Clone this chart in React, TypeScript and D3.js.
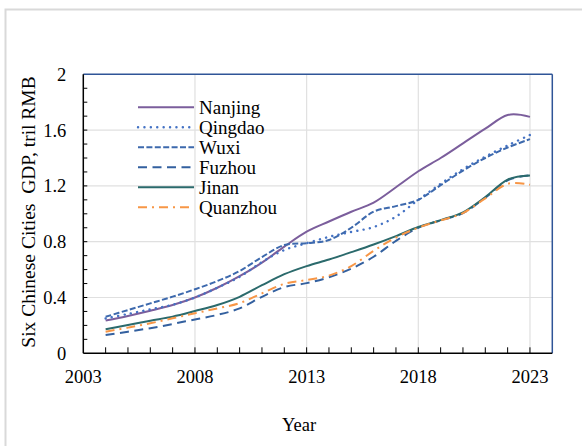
import * as d3 from "d3";
import React from "react";

const years = d3.range(2004, 2024);
const cities = ["Nanjing", "Qingdao", "Wuxi", "Fuzhou", "Jinan", "Quanzhou"];

const nanjing = [0.235, 0.268, 0.305, 0.346, 0.4, 0.47, 0.553, 0.65, 0.765, 0.872, 0.945, 1.015, 1.08, 1.19, 1.305, 1.4, 1.505, 1.61, 1.708, 1.695];
const qingdao = [0.25, 0.282, 0.315, 0.348, 0.4, 0.47, 0.548, 0.655, 0.74, 0.789, 0.835, 0.87, 0.905, 0.98, 1.1, 1.215, 1.32, 1.41, 1.49, 1.565];
const wuxi = [0.262, 0.31, 0.358, 0.406, 0.459, 0.518, 0.59, 0.69, 0.776, 0.789, 0.812, 0.9, 1.015, 1.055, 1.1, 1.205, 1.31, 1.4, 1.475, 1.535];
const fuzhou = [0.131, 0.155, 0.18, 0.21, 0.243, 0.275, 0.322, 0.405, 0.475, 0.503, 0.545, 0.607, 0.692, 0.806, 0.9, 0.953, 1.005, 1.115, 1.24, 1.275];
const jinan = [0.172, 0.203, 0.234, 0.263, 0.303, 0.346, 0.405, 0.488, 0.567, 0.625, 0.672, 0.725, 0.78, 0.84, 0.905, 0.955, 1.01, 1.12, 1.245, 1.275];
const quanzhou = [0.155, 0.184, 0.215, 0.251, 0.287, 0.322, 0.36, 0.43, 0.498, 0.525, 0.557, 0.625, 0.735, 0.83, 0.9, 0.953, 1.005, 1.11, 1.215, 1.208];

const xTickLabels = [2003, 2008, 2013, 2018, 2023];
const yTickLabels = [0, 0.4, 0.8, 1.2, 1.6, 2];

const seriesValues = [nanjing, qingdao, wuxi, fuzhou, jinan, quanzhou];
// stroke styles per series
const styles = [
  { color: "#7b5e9c", dash: "none", cap: "butt" },
  { color: "#4472c4", dash: "0.1 6.3", cap: "round" },
  { color: "#3d69ad", dash: "6 2.4", cap: "butt" },
  { color: "#33609f", dash: "9 5.5", cap: "butt" },
  { color: "#2b6a6c", dash: "none", cap: "butt" },
  { color: "#f79646", dash: "9 5 2 5", cap: "butt" },
];

const font = "'Liberation Serif', 'Times New Roman', serif";

export default function App() {
  const width = 582;
  const height = 446;
  const left = 83.3;
  const right = 552.3;
  const top = 74.3;
  const bottom = 353.3;

  const x = d3.scaleLinear().domain([2003, 2024]).range([left, right]);
  const y = d3.scaleLinear().domain([0, 2]).range([bottom, top]);

  const lineGen = d3
    .line<number>()
    .x((d, i) => x(years[i]))
    .y((d) => y(d))
    .curve(d3.curveCatmullRom.alpha(0));

  const minorYears = d3.range(2004, 2024);
  const minorY = d3.range(0.1, 2, 0.1);

  return (
    <svg
      width={width}
      height={height}
      style={{ position: "absolute", left: 0, top: 0, background: "#fff" }}
      fontFamily={font}
    >
      <rect x={0} y={0} width={width} height={height} fill="#fff" />
      <rect x={5.5} y={9.5} width={620} height={500} fill="none" stroke="#d9d9d9" strokeWidth={2} />

      {/* grid */}
      {yTickLabels.slice(1, -1).map((v) => (
        <line key={"gy" + v} x1={left} x2={right} y1={y(v)} y2={y(v)} stroke="#e0e0e0" strokeWidth={1.2} />
      ))}
      {xTickLabels.slice(1).map((v) => (
        <line key={"gx" + v} x1={x(v)} x2={x(v)} y1={top} y2={bottom} stroke="#e0e0e0" strokeWidth={1.2} />
      ))}

      {/* frame */}
      <line x1={left} x2={right} y1={top} y2={top} stroke="#2f5597" strokeWidth={1.5} />
      <line x1={right} x2={right} y1={top} y2={bottom} stroke="#2f5597" strokeWidth={1.5} />
      <line x1={left} x2={left} y1={top} y2={bottom} stroke="#000" strokeWidth={1.5} />
      <line x1={left} x2={right} y1={bottom} y2={bottom} stroke="#000" strokeWidth={1.5} />

      {/* ticks */}
      {minorYears.map((v) => (
        <line key={"tx" + v} x1={x(v)} x2={x(v)} y1={bottom} y2={bottom - 6} stroke="#000" strokeWidth={1} />
      ))}
      {minorY.map((v) => (
        <line key={"ty" + v} x1={left} x2={left + 4} y1={y(v)} y2={y(v)} stroke="#000" strokeWidth={1} />
      ))}

      {/* tick labels */}
      {yTickLabels.map((v) => (
        <text key={"ly" + v} x={left - 17} y={y(v)} dy="0.35em" textAnchor="end" fontSize={18.5} fill="#000">
          {v}
        </text>
      ))}
      {xTickLabels.map((v) => (
        <text key={"lx" + v} x={x(v)} y={bottom + 23} dy="0.35em" textAnchor="middle" fontSize={18.5} fill="#000">
          {v}
        </text>
      ))}

      <text x={299} y={425} dy="0.35em" textAnchor="middle" fontSize={18.5} fill="#000">
        Year
      </text>
      <text
        transform={`translate(${28},${212}) rotate(-90)`}
        dy="0.35em"
        textAnchor="middle"
        fontSize={19.5}
        fill="#000"
        style={{ whiteSpace: "pre" }}
      >
        {"Six Chinese Cities  GDP, tril RMB"}
      </text>

      {/* series */}
      {seriesValues.map((vals, i) => (
        <path
          key={cities[i]}
          d={lineGen(vals) || ""}
          fill="none"
          stroke={styles[i].color}
          strokeWidth={i === 1 ? 2.4 : 2}
          strokeDasharray={styles[i].dash}
          strokeLinecap={styles[i].cap as any}
        />
      ))}

      {/* legend */}
      {cities.map((c, i) => {
        const ly = 107.3 + i * 20;
        return (
          <g key={"lg" + c}>
            <line
              x1={138}
              x2={194}
              y1={ly}
              y2={ly}
              stroke={styles[i].color}
              strokeWidth={i === 1 ? 2.4 : 2}
              strokeDasharray={styles[i].dash}
              strokeLinecap={styles[i].cap as any}
            />
            <text x={199} y={ly + 6.5} fontSize={19} fill="#000">
              {c}
            </text>
          </g>
        );
      })}
    </svg>
  );
}
